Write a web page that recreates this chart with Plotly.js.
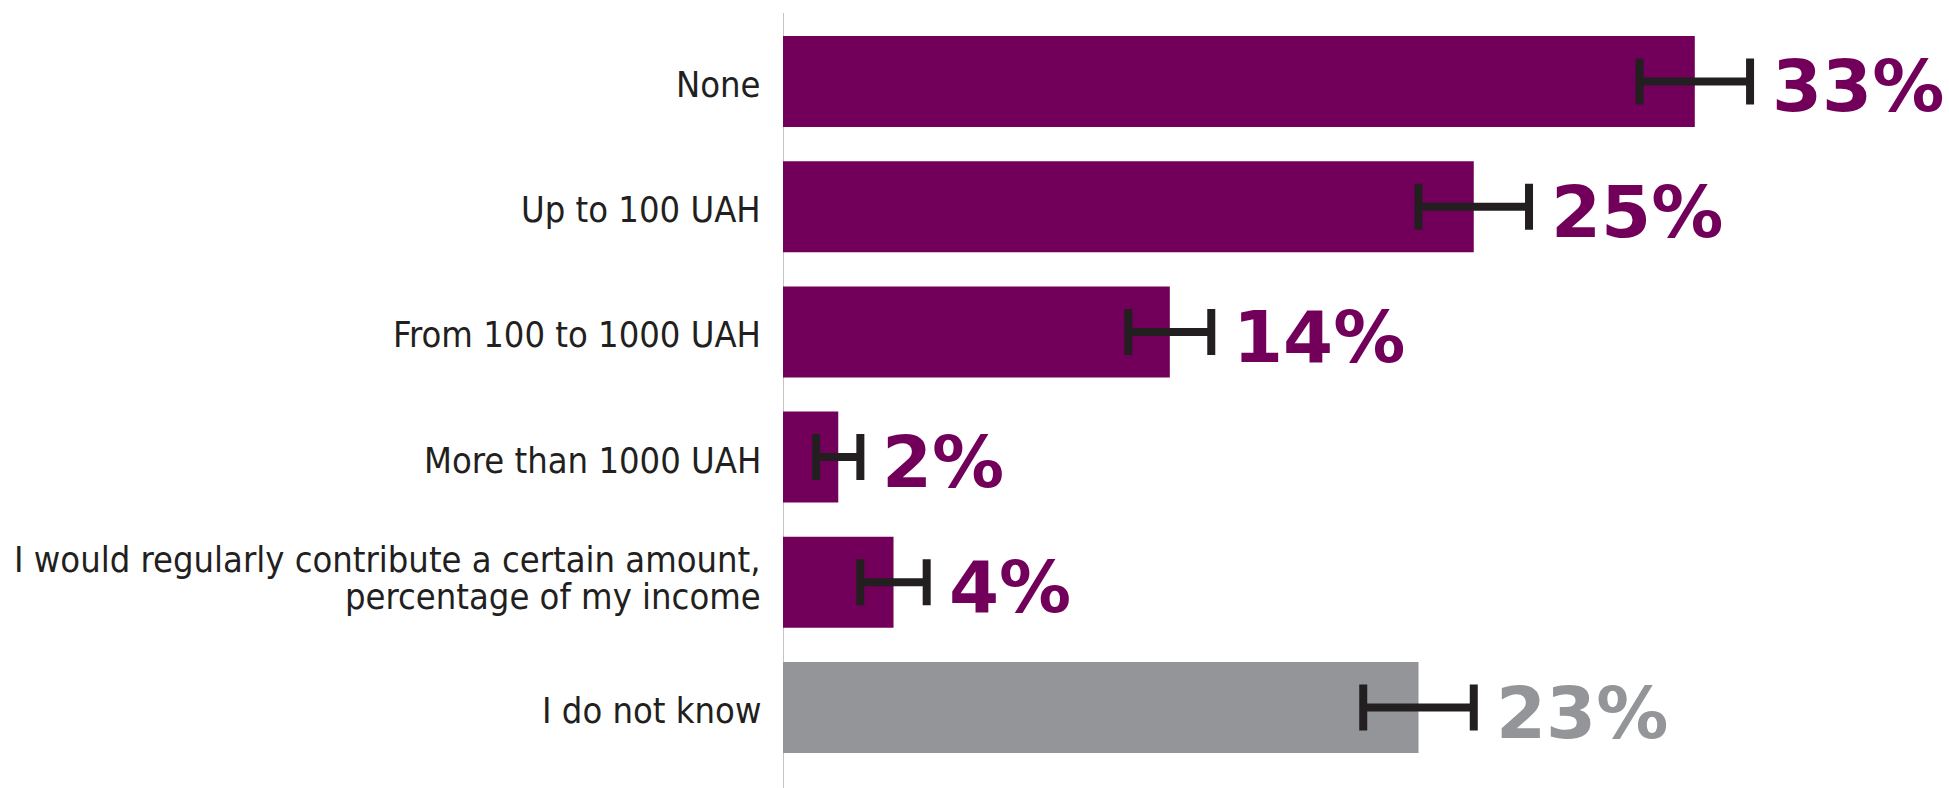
<!DOCTYPE html>
<html>
<head>
<meta charset="utf-8">
<script src="https://cdn.plot.ly/plotly-3.0.1.min.js"></script>
<style>
  html, body { margin: 0; padding: 0; background: #ffffff; }
  #chart { width: 1949px; height: 788px; }
</style>
</head>
<body>
<div id="chart"></div>
<script>
// ---- data ----
const categories = [
  "None",
  "Up to 100 UAH",
  "From 100 to 1000 UAH",
  "More than 1000 UAH",
  "I would regularly contribute a certain amount,<br>percentage of my income",
  "I do not know"
];
const values = [33, 25, 14, 2, 4, 23];
const errors = [2, 2, 1.5, 0.8, 1.2, 2];
const valueLabels = ["33%", "25%", "14%", "2%", "4%", "23%"];

// ---- styles ----
const PURPLE = "#72005a";
const GRAY = "#939598";
const DARK = "#231f20";
const colorFor = c => (c === "I do not know" ? GRAY : PURPLE);
const barColors = categories.map(colorFor);

const trace = {
  type: "bar",
  orientation: "h",
  y: categories,
  x: values,
  width: 0.727,
  marker: { color: barColors, line: { width: 0 } },
  error_x: { type: "data", array: errors, visible: true, color: DARK, thickness: 8, width: 23 },
  hoverinfo: "x+y",
  showlegend: false
};

const annotations = [];
// category labels (split lines so we can control line spacing)
categories.forEach((c, i) => {
  const lines = c.split("<br>");
  const spacing = 37;
  const n = lines.length;
  lines.forEach((ln, j) => {
    annotations.push({
      xref: "paper", yref: "y",
      x: 0, y: i,
      xanchor: "right", yanchor: "middle",
      xshift: -20,
      yshift: ((n - 1) / 2 - j) * spacing + (n > 1 ? 4 : -3),
      text: ln,
      showarrow: false,
      font: { family: "DejaVu Sans Condensed, sans-serif", size: 36, color: DARK }
    });
  });
});
// value labels
values.forEach((v, i) => {
  annotations.push({
    xref: "x", yref: "y",
    x: v + errors[i], y: i,
    xanchor: "left", yanchor: "middle",
    xshift: 20, yshift: -5,
    text: valueLabels[i],
    showarrow: false,
    font: { family: "DejaVu Sans, sans-serif", size: 72, weight: 700, color: barColors[i] }
  });
});

const layout = {
  width: 1949,
  height: 788,
  margin: { l: 783, r: 0, t: 13, b: 0, pad: 0 },
  paper_bgcolor: "#ffffff",
  plot_bgcolor: "#ffffff",
  xaxis: {
    range: [0, 42.2],
    showgrid: false, zeroline: false, showline: false,
    showticklabels: false, ticks: ""
  },
  yaxis: {
    type: "category",
    range: [5.643, -0.547],
    showgrid: false, zeroline: false, showline: false,
    showticklabels: false, ticks: ""
  },
  shapes: [{
    type: "line", xref: "x", yref: "paper",
    x0: 0, x1: 0, y0: -0.02, y1: 1,
    line: { color: "#c4c4c4", width: 2 },
    layer: "below"
  }],
  annotations: annotations
};

Plotly.newPlot("chart", [trace], layout, { displayModeBar: false, staticPlot: true });
</script>
</body>
</html>
